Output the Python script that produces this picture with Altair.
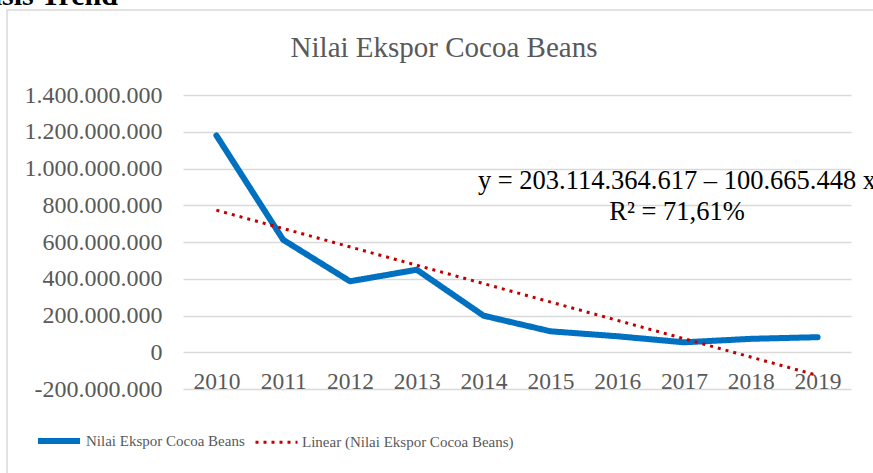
import altair as alt
import pandas as pd

# ---- data ----
years = [2010, 2011, 2012, 2013, 2014, 2015, 2016, 2017, 2018, 2019]
values = [1180e6, 612e6, 386e6, 449e6, 199e6, 114e6, 87e6, 54e6, 73e6, 82e6]
y_ticks = [-200e6, 0, 200e6, 400e6, 600e6, 800e6, 1000e6, 1200e6, 1400e6]
series_name = "Nilai Ekspor Cocoa Beans"
trend_name = "Linear (Nilai Ekspor Cocoa Beans)"
chart_title = ["Nilai Ekspor Cocoa Beans"]
equation = ["y = 203.114.364.617 – 100.665.448 x"]
r_squared = ["R² = 71,61%"]
heading = ["Analisis Trend"]

df = pd.DataFrame({"year": years, "value": values, "series": series_name})

W, H = 668, 294
FONT = "Liberation Serif"
GRAY = "#595959"

legend = alt.Legend(
    title=None, orient="none", legendX=-148, legendY=322, direction="horizontal",
    symbolType="stroke", symbolSize=1764, labelFont=FONT, labelFontSize=15,
    labelColor=GRAY, labelOffset=3, columnPadding=4, labelLimit=0,
)
dom = [series_name, trend_name]
color = alt.Color("series:N", scale=alt.Scale(domain=dom, range=["#0070C0", "#C00000"]), legend=legend)
dash = alt.StrokeDash("series:N", scale=alt.Scale(domain=dom, range=[[1, 0], [3, 5]]), legend=legend)
swidth = alt.StrokeWidth("series:N", scale=alt.Scale(domain=dom, range=[6, 3]), legend=legend)

x = alt.X(
    "year:Q",
    scale=alt.Scale(domain=[2009.5, 2019.5], nice=False, zero=False),
    axis=alt.Axis(
        values=years, format="d", title=None, grid=False, domain=False, ticks=False,
        tickSize=0, labelPadding=36, labelBaseline="alphabetic", offset=-36.6,
        labelFont=FONT, labelFontSize=23.5, labelColor=GRAY, labelFlush=False,
        labelOverlap=False,
    ),
)
y = alt.Y(
    "value:Q",
    scale=alt.Scale(domain=[-200e6, 1400e6], nice=False, zero=False),
    axis=alt.Axis(
        values=y_ticks, title=None, domain=False, ticks=False, tickSize=0, labelPadding=21,
        labelFont=FONT, labelFontSize=24, labelColor=GRAY,
        labelExpr="replace(replace(format(datum.value, ','), /,/g, '.'), '\u2212', '-')",
        gridColor="#d9d9d9", gridWidth=1.3,
    ),
)

base = alt.Chart(df)
line = base.mark_line(strokeCap="round", strokeJoin="round").encode(
    x=x, y=y, color=color, strokeDash=dash, strokeWidth=swidth
)
trend = (
    base.transform_regression("year", "value")
    .transform_calculate(series=f"'{trend_name}'")
    .mark_line()
    .encode(x=x, y=y, color=color, strokeDash=dash, strokeWidth=swidth)
)

border = alt.Chart(pd.DataFrame({"b": [1]})).mark_rect(
    fillOpacity=0, stroke="#d9d9d9", strokeWidth=1.5
).encode(x=alt.value(-176), x2=alt.value(700), y=alt.value(-85), y2=alt.value(390))

title = alt.Chart(pd.DataFrame({"t": chart_title})).mark_text(
    font=FONT, fontSize=29, color=GRAY, align="center", baseline="alphabetic"
).encode(text="t:N", x=alt.value(261), y=alt.value(-38))

eq = alt.Chart(pd.DataFrame({"t": equation})).mark_text(
    font=FONT, fontSize=26.5, color="black", align="center", baseline="alphabetic"
).encode(text="t:N", x=alt.value(494), y=alt.value(94))

r2 = alt.Chart(pd.DataFrame({"t": r_squared})).mark_text(
    font=FONT, fontSize=26.5, color="black", align="center", baseline="alphabetic"
).encode(text="t:N", x=alt.value(494), y=alt.value(125))

head = alt.Chart(pd.DataFrame({"t": heading})).mark_text(
    font=FONT, fontSize=30, fontWeight="bold", color="black", align="left", baseline="alphabetic"
).encode(text="t:N", x=alt.value(-251), y=alt.value(-90))

chart = (
    alt.layer(border, head, title, line, trend, eq, r2)
    .properties(
        width=W, height=H,
        padding={"left": 183, "top": 95, "right": 22, "bottom": 84},
        autosize=alt.AutoSizeParams(type="none"),
    )
    .configure_view(stroke=None)
)

chart.save("out.html", embed_options={"renderer": "svg", "actions": False})
